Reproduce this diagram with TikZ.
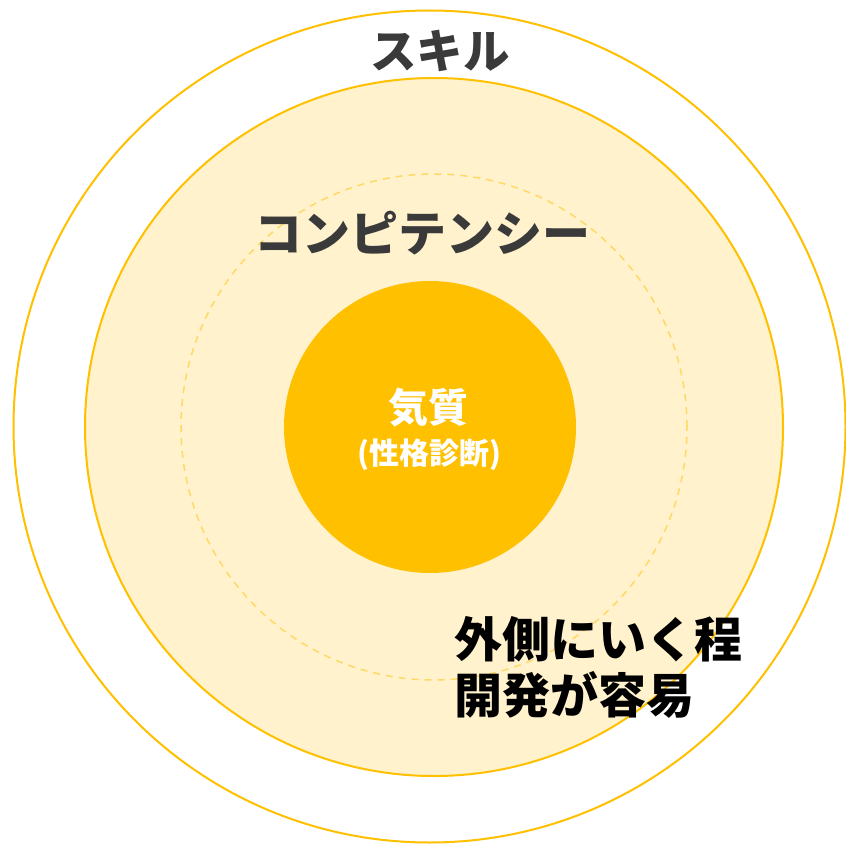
\documentclass[tikz,border=0pt]{standalone}
\usepackage{fontspec}
\setmainfont{Noto Sans CJK JP}
\definecolor{gold}{HTML}{FFC000}
\definecolor{paleyellow}{HTML}{FFF2CC}
\definecolor{dashyellow}{HTML}{FFD966}
\definecolor{darktext}{HTML}{3A3A3A}
\tikzset{
  ringline/.style={draw=gold, line width=2pt},
  label/.style={inner sep=0pt, font=\bfseries},
}
\begin{document}
\begin{tikzpicture}[x=1pt,y=-1pt]
\useasboundingbox (0,0) rectangle (846,845);
\fill[white] (0,0) rectangle (846,845);
\draw[ringline] (429.5,426.5) circle[radius=416pt];
\draw[ringline, fill=paleyellow] (434,427) circle[radius=349pt];
\draw[draw=dashyellow, line width=1.5pt, dash pattern=on 7pt off 6pt] (434,427) circle[radius=253pt];
\fill[gold] (430,427) circle[radius=146pt];
\node[label, text=darktext, font=\bfseries\fontsize{46.5}{50}\selectfont] (skill) at (440,51) {スキル};
\node[label, text=darktext, font=\bfseries\fontsize{48}{52}\selectfont] (comp) at (422,233) {コンピテンシー};
\node[label, text=white, font=\bfseries\fontsize{40}{44}\selectfont] (kishitsu) at (428,408) {気質};
\node[label, text=white, font=\bfseries\fontsize{30}{33}\selectfont] (shindan) at (429,455) {(性格診断)};
\node[label, text=black, anchor=north west, align=left, font=\bfseries\fontsize{48}{56}\selectfont] (note) at (454,616) {外側にいく程\\開発が容易};
\end{tikzpicture}
\end{document}
